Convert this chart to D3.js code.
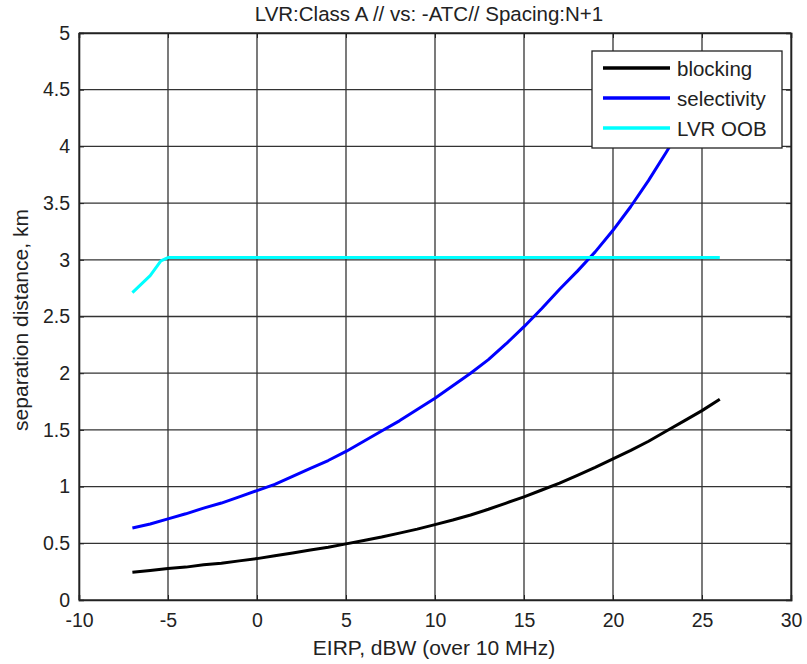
<!DOCTYPE html>
<html>
<head>
<meta charset="utf-8">
<script src="https://cdn.jsdelivr.net/npm/d3@7"></script>
<style>
  body { margin: 0; background: #fff; }
  text { font-family: "Liberation Sans", Arial, sans-serif; }
</style>
</head>
<body>
<div id="chart"></div>
<script>
// Set dimensions and margins
const width = 807;
const height = 664;
const margin = { top: 33, right: 16, bottom: 64, left: 79 };

// EIRP values (dBW over 10 MHz)
const eirp = [-7, -6, -5, -4, -3, -2, -1, 0, 1, 2, 3, 4, 5, 6, 7, 8, 9, 10,
  11, 12, 13, 14, 15, 16, 17, 18, 19, 20, 21, 22, 23, 24, 25, 26];

// separation distance, km
const blocking = [0.245, 0.26, 0.278, 0.29, 0.31, 0.325, 0.345, 0.365, 0.39, 0.415,
  0.44, 0.465, 0.495, 0.525, 0.555, 0.59, 0.625, 0.665, 0.705, 0.75,
  0.80, 0.855, 0.91, 0.97, 1.03, 1.10, 1.17, 1.245, 1.32, 1.40,
  1.49, 1.58, 1.67, 1.77];
const selectivity = [0.635, 0.67, 0.715, 0.76, 0.81, 0.855, 0.91, 0.965, 1.02, 1.09,
  1.16, 1.23, 1.31, 1.40, 1.49, 1.58, 1.68, 1.78, 1.89, 2.00,
  2.12, 2.26, 2.41, 2.57, 2.74, 2.90, 3.07, 3.26, 3.47, 3.70,
  3.95, 4.21, 4.48, 4.76];
const oobX = [-7, -6, -5.4, -5, 26];
const oob = [2.71, 2.86, 2.99, 3.02, 3.02];

const xTicks = [-10, -5, 0, 5, 10, 15, 20, 25, 30];
const yTicks = [0, 0.5, 1, 1.5, 2, 2.5, 3, 3.5, 4, 4.5, 5];

const series = [
  { label: "blocking", color: "#000000", x: eirp, y: blocking },
  { label: "selectivity", color: "#0000ff", x: eirp, y: selectivity },
  { label: "LVR OOB", color: "#00ffff", x: oobX, y: oob }
];

const svg = d3.select("#chart").append("svg")
    .attr("width", width)
    .attr("height", height);

const x = d3.scaleLinear().domain([-10, 30]).range([margin.left, width - margin.right]);
const y = d3.scaleLinear().domain([0, 5]).range([height - margin.bottom, margin.top]);

// Grid lines
svg.append("g")
    .selectAll("line")
    .data(xTicks)
    .enter().append("line")
    .attr("x1", d => x(d)).attr("x2", d => x(d))
    .attr("y1", y(0)).attr("y2", y(5))
    .attr("stroke", "#333").attr("stroke-width", 1.3);
svg.append("g")
    .selectAll("line")
    .data(yTicks)
    .enter().append("line")
    .attr("x1", x(-10)).attr("x2", x(30))
    .attr("y1", d => y(d)).attr("y2", d => y(d))
    .attr("stroke", "#333").attr("stroke-width", 1.3);

// Axes with inner ticks (plain hyphen for negatives, like the original)
svg.append("g")
    .attr("transform", `translate(0,${y(0)})`)
    .call(d3.axisBottom(x).tickValues(xTicks).tickSize(-5).tickPadding(13).tickFormat(d => String(d)));
svg.append("g")
    .attr("transform", `translate(${x(-10)},0)`)
    .call(d3.axisLeft(y).tickValues(yTicks).tickSize(-5).tickPadding(9).tickFormat(d => String(d)));
svg.append("g")
    .attr("transform", `translate(0,${y(5)})`)
    .call(d3.axisTop(x).tickValues(xTicks).tickSize(-5).tickFormat(""));
svg.append("g")
    .attr("transform", `translate(${x(30)},0)`)
    .call(d3.axisRight(y).tickValues(yTicks).tickSize(-5).tickFormat(""));

svg.selectAll(".domain").attr("stroke", "#222").attr("stroke-width", 1.6);
svg.selectAll(".tick line").attr("stroke", "#222");
svg.selectAll(".tick text")
    .attr("font-size", 19.5)
    .attr("fill", "#222")
    .style("font-family", "'Liberation Sans', Arial, sans-serif");

// Data lines
const line = d3.line().x(d => x(d[0])).y(d => y(d[1]));
svg.append("g")
    .selectAll("path")
    .data(series)
    .enter().append("path")
    .attr("d", s => line(s.x.map((v, i) => [v, s.y[i]])))
    .attr("fill", "none")
    .attr("stroke", s => s.color)
    .attr("stroke-width", 3)
    .attr("stroke-linejoin", "round");

// Legend
const legend = svg.append("g").attr("transform", "translate(592,51)");
legend.append("rect")
    .attr("width", 190).attr("height", 97)
    .attr("fill", "#fff").attr("stroke", "#222").attr("stroke-width", 1.3);
series.forEach((s, i) => {
  const ly = 17 + i * 30;
  legend.append("line")
      .attr("x1", 11).attr("x2", 78)
      .attr("y1", ly).attr("y2", ly)
      .attr("stroke", s.color).attr("stroke-width", 3.5);
  legend.append("text")
      .attr("x", 85).attr("y", ly + 8)
      .attr("font-size", 20.5).attr("fill", "#222")
      .text(s.label);
});

// Title and axis labels
svg.append("text")
    .attr("x", 429).attr("y", 21)
    .attr("text-anchor", "middle")
    .attr("font-size", 20.5).attr("fill", "#222")
    .text("LVR:Class A // vs: -ATC// Spacing:N+1");
svg.append("text")
    .attr("x", 434).attr("y", 655)
    .attr("text-anchor", "middle")
    .attr("font-size", 21).attr("fill", "#222")
    .text("EIRP, dBW (over 10 MHz)");
svg.append("text")
    .attr("transform", "translate(28,320) rotate(-90)")
    .attr("text-anchor", "middle")
    .attr("font-size", 21).attr("fill", "#222")
    .text("separation distance, km");
</script>
</body>
</html>
